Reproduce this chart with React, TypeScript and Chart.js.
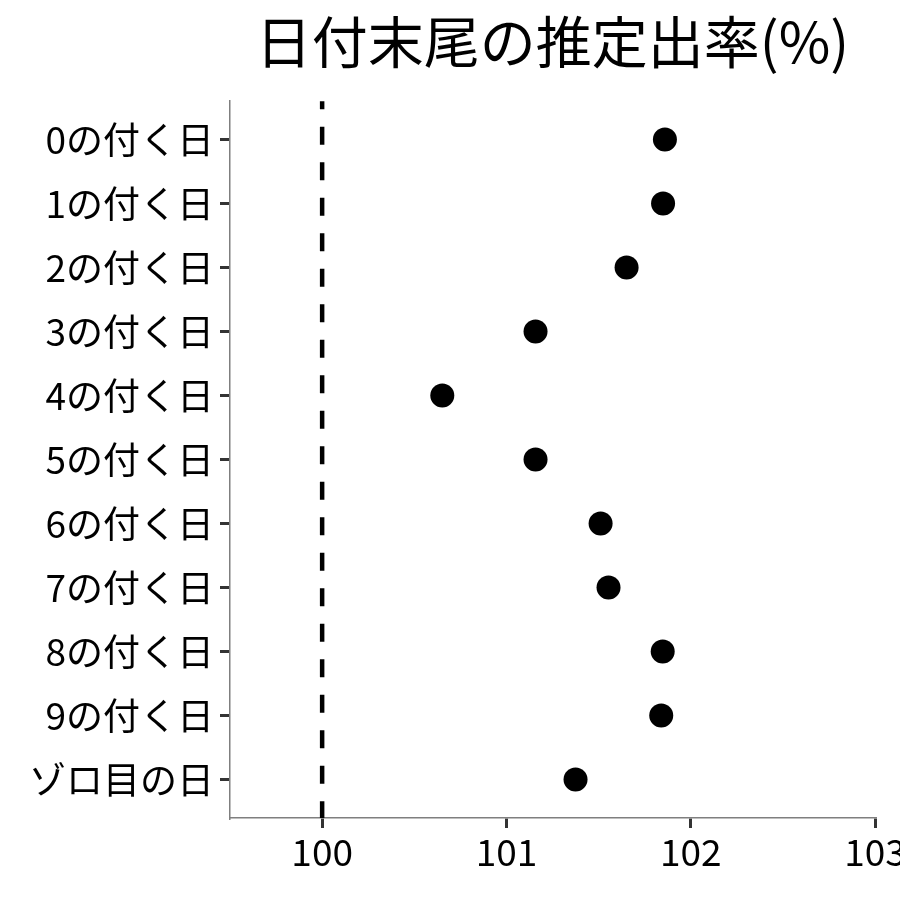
import React, { useEffect, useRef } from "react";
import { Chart, registerables } from "chart.js";

Chart.register(...registerables);

const categories = [
  "0の付く日",
  "1の付く日",
  "2の付く日",
  "3の付く日",
  "4の付く日",
  "5の付く日",
  "6の付く日",
  "7の付く日",
  "8の付く日",
  "9の付く日",
  "ゾロ目の日",
];
const rates = [101.86, 101.85, 101.652, 101.158, 100.652, 101.158, 101.511, 101.554, 101.848, 101.84, 101.375];
const referenceValue = 100;
const xTicks = [100, 101, 102, 103];
const titleText = "日付末尾の推定出率(%)";

const FONT = "'Noto Sans CJK JP', 'Noto Sans', sans-serif";

export default function App() {
  const ref = useRef<HTMLCanvasElement | null>(null);
  useEffect(() => {
    document.body.style.margin = "0";
    const ctx = ref.current!;
    const chart = new Chart(ctx, {
      type: "scatter",
      data: {
        datasets: [
          {
            type: "line",
            data: [
              { x: referenceValue, y: -0.6 },
              { x: referenceValue, y: categories.length - 0.4 },
            ],
            borderColor: "#000",
            borderWidth: 4.5,
            borderDash: [18, 17.5],
            borderDashOffset: 10,
            borderCapStyle: "butt",
            pointRadius: 0,
            clip: false as any,
          } as any,
          {
            data: rates.map((v, i) => ({ x: v, y: i })),
            backgroundColor: "#000",
            borderColor: "#000",
            borderWidth: 0,
            pointRadius: 12,
            pointHoverRadius: 12,
          },
        ],
      },
      options: {
        animation: false,
        responsive: false,
        maintainAspectRatio: false,
        layout: { padding: { left: 0, right: 25, top: 0, bottom: 0 } },
        plugins: {
          legend: { display: false },
          tooltip: { enabled: false },
          title: {
            display: true,
            text: titleText,
            fullSize: false,
            color: "#000",
            font: { family: FONT, size: 56, weight: "normal" },
            padding: { top: 8, bottom: 26 },
          },
        },
        scales: {
          x: {
            type: "linear",
            min: 99.5,
            max: 103,
            afterBuildTicks: (s: any) => {
              s.ticks = xTicks.map((v) => ({ value: v }));
            },
            afterFit: (s: any) => {
              s.height = 82;
              s.paddingLeft = 0;
              s.paddingRight = 0;
            },
            ticks: {
              color: "#000",
              font: { family: FONT, size: 37 },
              padding: 2,
              maxRotation: 0,
              autoSkip: false,
            },
            grid: {
              display: true,
              drawOnChartArea: false,
              drawTicks: true,
              tickLength: 10,
              color: "#333",
              lineWidth: 3,
            },
            border: { display: true, color: "#7f7f7f", width: 1.5 },
          },
          y: {
            type: "linear",
            reverse: true,
            min: -0.6,
            max: categories.length - 0.4,
            afterBuildTicks: (s: any) => {
              s.ticks = categories.map((_, i) => ({ value: i }));
            },
            afterFit: (s: any) => {
              s.width = 230;
              s.paddingTop = 0;
              s.paddingBottom = 0;
            },
            ticks: {
              color: "#000",
              font: { family: FONT, size: 37 },
              padding: 6,
              autoSkip: false,
              callback: (v: any) => categories[v as number] ?? "",
            },
            grid: {
              display: true,
              drawOnChartArea: false,
              drawTicks: true,
              tickLength: 10,
              color: "#333",
              lineWidth: 3,
            },
            border: { display: true, color: "#7f7f7f", width: 1.5 },
          },
        },
      },
    });
    return () => chart.destroy();
  }, []);
  return (
    <div style={{ width: 900, height: 900, background: "#fff" }}>
      <canvas ref={ref} width={900} height={900} style={{ display: "block", width: 900, height: 900 }} />
    </div>
  );
}
